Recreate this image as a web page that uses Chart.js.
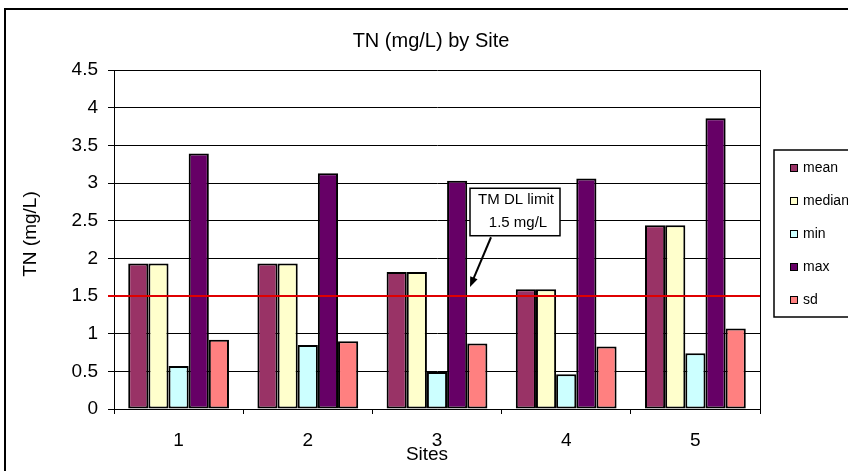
<!DOCTYPE html>
<html>
<head>
<meta charset="utf-8">
<script src="https://cdn.jsdelivr.net/npm/chart.js@4.4.0/dist/chart.umd.min.js"></script>
<style>
html, body { margin: 0; padding: 0; background: #fff; }
#wrap { width: 848px; height: 471px; }
</style>
</head>
<body>
<div id="wrap"><canvas id="myChart" width="848" height="471"></canvas></div>
<script>
// data
var sites = ['1', '2', '3', '4', '5'];
var meanVals   = [1.93, 1.93, 1.82, 1.59, 2.44];
var medianVals = [1.93, 1.93, 1.82, 1.59, 2.44];
var minVals    = [0.57, 0.85, 0.49, 0.46, 0.74];
var maxVals    = [3.39, 3.13, 3.03, 3.06, 3.86];
var sdVals     = [0.92, 0.90, 0.87, 0.83, 1.07];

var yMin = 0, yMax = 4.5, yStep = 0.5;
var limitValue = 1.5;
var limitText = ['TM DL limit', '1.5 mg/L'];

var chartTitle = 'TN (mg/L) by Site';
var yTitle = 'TN (mg/L)';
var xTitle = 'Sites';

var FONT = '"Liberation Sans", Arial, sans-serif';

// titles, plot frame, limit line, callout and legend
var decorPlugin = {
    id: 'decor',
    beforeDraw: function(chart) {
        var c = chart.ctx;
        c.save();
        c.fillStyle = '#fff';
        c.fillRect(0, 0, chart.width, chart.height);
        c.strokeStyle = '#000';
        c.lineWidth = 2;
        c.strokeRect(5, 9, chart.width + 20, chart.height + 20);
        c.restore();
    },
    afterDatasetsDraw: function(chart) {
        var c = chart.ctx;
        var area = chart.chartArea;
        var xs = chart.scales.x, ys = chart.scales.y;
        c.save();

        // right edge of plot area
        c.strokeStyle = '#000';
        c.lineWidth = 1;
        c.beginPath();
        c.moveTo(Math.round(area.right) + 0.5, area.top);
        c.lineTo(Math.round(area.right) + 0.5, area.bottom);
        c.stroke();

        // limit line
        var ly = ys.getPixelForValue(limitValue);
        c.strokeStyle = '#e00000';
        c.lineWidth = 2;
        c.beginPath();
        c.moveTo(area.left - 6, ly);
        c.lineTo(area.right, ly);
        c.stroke();

        // callout box
        var cx = xs.getPixelForValue(2);
        var bl = cx + 33, br = cx + 123;
        var bt = ys.getPixelForValue(2.93), bb = ys.getPixelForValue(2.30);
        c.fillStyle = '#fff';
        c.fillRect(bl, bt, br - bl, bb - bt);
        c.strokeStyle = '#000';
        c.lineWidth = 1.5;
        c.strokeRect(bl, bt, br - bl, bb - bt);
        c.fillStyle = '#000';
        c.font = '15px ' + FONT;
        c.textAlign = 'center';
        c.textBaseline = 'middle';
        c.fillText(limitText[0], cx + 79, bt + 12);
        c.fillText(limitText[1], cx + 81, bt + 35);

        // arrow
        var sx = cx + 54, sy = ys.getPixelForValue(2.28);
        var tx = cx + 33, ty = ys.getPixelForValue(1.62);
        var ang = Math.atan2(ty - sy, tx - sx);
        c.strokeStyle = '#000';
        c.lineWidth = 2;
        c.beginPath();
        c.moveTo(sx, sy);
        c.lineTo(tx - 6 * Math.cos(ang), ty - 6 * Math.sin(ang));
        c.stroke();
        c.beginPath();
        c.moveTo(tx, ty);
        c.lineTo(tx - 10 * Math.cos(ang) + 4 * Math.sin(ang), ty - 10 * Math.sin(ang) - 4 * Math.cos(ang));
        c.lineTo(tx - 10 * Math.cos(ang) - 4 * Math.sin(ang), ty - 10 * Math.sin(ang) + 4 * Math.cos(ang));
        c.closePath();
        c.fill();
        c.restore();
    },
    afterDraw: function(chart) {
        var c = chart.ctx;
        c.save();
        c.fillStyle = '#000';
        c.textAlign = 'center';
        c.textBaseline = 'middle';

        c.font = '20px ' + FONT;
        c.fillText(chartTitle, 431, 41);

        c.font = '19px ' + FONT;
        c.fillText(xTitle, 427, 455);

        c.save();
        c.translate(31, 234);
        c.rotate(-Math.PI / 2);
        c.fillText(yTitle, 0, 0);
        c.restore();

        // legend
        c.strokeStyle = '#000';
        c.lineWidth = 1.5;
        c.strokeRect(774, 150, 200, 167);
        c.font = '14px ' + FONT;
        c.textAlign = 'left';
        chart.data.datasets.forEach(function(ds, i) {
            var iy = 168 + i * 33;
            c.fillStyle = ds.backgroundColor;
            c.fillRect(790, iy - 4, 8, 8);
            c.lineWidth = 1;
            c.strokeRect(790.5, iy - 3.5, 7, 7);
            c.fillStyle = '#000';
            c.fillText(ds.label, 803, iy);
        });
        c.restore();
    }
};

var ctx = document.getElementById('myChart');

function bars(label, data, color) {
    return {
        label: label,
        data: data,
        backgroundColor: color,
        borderColor: '#000',
        borderWidth: 2,
        borderSkipped: false
    };
}

var myChart = new Chart(ctx, {
    type: 'bar',
    data: {
        labels: sites,
        datasets: [
            bars('mean', meanVals, '#993366'),
            bars('median', medianVals, '#FFFFCC'),
            bars('min', minVals, '#CCFFFF'),
            bars('max', maxVals, '#660066'),
            bars('sd', sdVals, '#FF8080')
        ]
    },
    options: {
        responsive: false,
        animation: false,
        devicePixelRatio: 1,
        categoryPercentage: 0.78,
        barPercentage: 1,
        layout: {
            padding: { left: 54, right: 88, top: 70, bottom: 22 }
        },
        plugins: {
            legend: { display: false },
            title: { display: false },
            tooltip: { enabled: false }
        },
        scales: {
            x: {
                offset: true,
                grid: {
                    offset: true,
                    drawOnChartArea: false,
                    drawTicks: true,
                    tickLength: 5,
                    color: '#000'
                },
                border: { color: '#000', width: 1 },
                ticks: {
                    color: '#000',
                    padding: 15,
                    font: { family: FONT, size: 19 }
                },
                afterFit: function(s) { s.height = 40; }
            },
            y: {
                min: yMin,
                max: yMax,
                grid: {
                    color: '#000',
                    lineWidth: 1,
                    tickLength: 6
                },
                border: { color: '#000', width: 1 },
                ticks: {
                    stepSize: yStep,
                    color: '#000',
                    padding: 10,
                    font: { family: FONT, size: 19 },
                    callback: function(v) { return String(+v.toFixed(1)); }
                },
                afterFit: function(s) { s.width = 60; }
            }
        }
    },
    plugins: [decorPlugin]
});
</script>
</body>
</html>
